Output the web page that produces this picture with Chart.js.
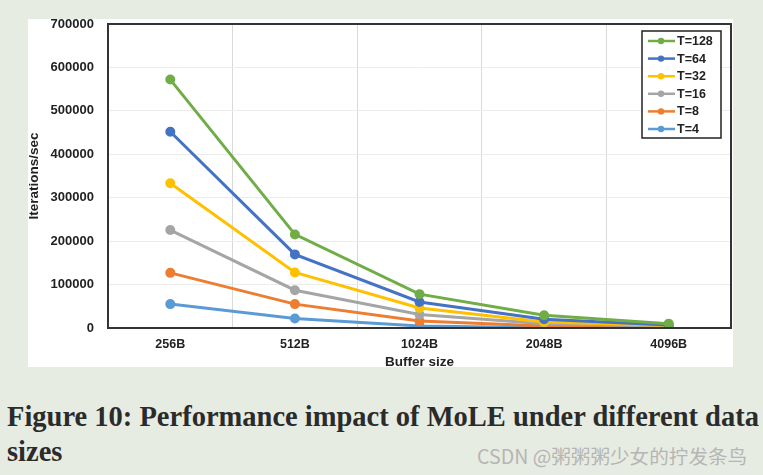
<!DOCTYPE html>
<html>
<head>
<meta charset="utf-8">
<script src="https://cdn.jsdelivr.net/npm/chart.js@4.4.0/dist/chart.umd.min.js"></script>
<style>
  body { margin: 0; background: #e7ece2; width: 763px; height: 475px; position: relative; overflow: hidden; }
  #panel { position: absolute; left: 28px; top: 19px; width: 705px; height: 348px; background: #fff; }
  #caption { position: absolute; left: 7px; top: 399px; font-family: "Liberation Serif", serif; font-weight: bold;
             font-size: 28.5px; line-height: 35px; color: #2b2b2b; white-space: nowrap; }
  #mark { position: absolute; left: 477px; top: 441px; font-family: "Noto Sans CJK SC", sans-serif; font-size: 19.6px;
          color: #b5b5b5; white-space: nowrap; }
</style>
</head>
<body>
<div id="panel"><canvas id="chart" width="705" height="348"></canvas></div>
<div id="caption">Figure 10: Performance impact of MoLE under different data<br>sizes</div>
<div id="mark">CSDN @粥粥粥少女的拧发条鸟</div>
<script>
const bufferSizes = ['256B', '512B', '1024B', '2048B', '4096B'];
const seriesLabels = ['T=128', 'T=64', 'T=32', 'T=16', 'T=8', 'T=4'];
const t128 = [572000, 215500, 78000, 29300, 10000];
const t64 = [452000, 169500, 60000, 20000, 7000];
const t32 = [333500, 127800, 46000, 14000, 5500];
const t16 = [225500, 87000, 31000, 10000, 4000];
const t8 = [127000, 55000, 16000, 4600, 2000];
const t4 = [55000, 22000, 4600, 800, 600];
const colors = ['#70ad47', '#4472c4', '#ffc000', '#a5a5a5', '#ed7d31', '#5b9bd5'];

const seriesValues = [t128, t64, t32, t16, t8, t4];
const tickFont = { family: 'Liberation Sans', weight: 'bold', size: 12.5 };
const yTickFont = { family: 'Liberation Sans', weight: 'bold', size: 13 };
const titleFont = { family: 'Liberation Sans', weight: 'bold', size: 13.5, lineHeight: 1 };

const boxAndLegend = {
    id: 'boxAndLegend',
    afterDraw(chart) {
        const ctx = chart.ctx;
        const a = chart.chartArea;
        ctx.save();
        ctx.strokeStyle = '#333';
        ctx.lineWidth = 2;
        ctx.strokeRect(a.left, a.top, a.right - a.left, a.bottom - a.top);

        // legend box
        const lx = a.right - 89, ly = a.top + 7, lw = 79, lh = 107;
        ctx.fillStyle = '#fff';
        ctx.fillRect(lx, ly, lw, lh);
        ctx.lineWidth = 1.5;
        ctx.strokeStyle = '#222';
        ctx.strokeRect(lx, ly, lw, lh);
        ctx.font = 'bold 12.5px "Liberation Sans"';
        ctx.textBaseline = 'middle';
        chart.data.datasets.forEach((ds, i) => {
            const y = ly + 10 + i * 17.6;
            ctx.strokeStyle = ds.borderColor;
            ctx.lineWidth = 2.5;
            ctx.beginPath();
            ctx.moveTo(lx + 6, y);
            ctx.lineTo(lx + 33, y);
            ctx.stroke();
            ctx.fillStyle = ds.borderColor;
            ctx.beginPath();
            ctx.arc(lx + 19, y, 3.2, 0, Math.PI * 2);
            ctx.fill();
            ctx.fillStyle = '#222';
            ctx.fillText(ds.label, lx + 35, y + 0.5);
        });
        ctx.restore();
    }
};

new Chart(document.getElementById('chart'), {
    type: 'line',
    data: {
        labels: bufferSizes,
        datasets: seriesLabels.map((label, i) => ({
            label: label,
            data: seriesValues[i],
            borderColor: colors[i],
            backgroundColor: colors[i],
            borderWidth: 3,
            pointRadius: 3.5,
            pointHoverRadius: 3.5,
            tension: 0
        }))
    },
    options: {
        responsive: false,
        animation: false,
        layout: { autoPadding: false, padding: { top: 5, right: 2, left: 0, bottom: 0 } },
        plugins: { legend: { display: false }, tooltip: { enabled: false } },
        scales: {
            x: {
                offset: true,
                grid: { offset: true, color: '#d9d9d9', drawTicks: false },
                border: { display: false },
                ticks: { color: '#222', font: tickFont, padding: 9 },
                title: { display: true, text: 'Buffer size', color: '#222', font: titleFont,
                         padding: { top: 0, bottom: -2 } },
                afterFit(scale) {
                    scale.height = 39;
                    scale.paddingLeft = 0;
                    scale.paddingRight = 0;
                }
            },
            y: {
                min: 0,
                max: 700000,
                grid: { color: '#ececec', drawTicks: false },
                border: { display: false },
                ticks: { stepSize: 100000, color: '#222', font: yTickFont, padding: 14,
                         callback: (v) => String(v) },
                title: { display: true, text: 'Iterations/sec', color: '#222', font: titleFont, padding: 0 },
                afterFit(scale) {
                    scale.width = 80;
                    scale.paddingTop = 0;
                    scale.paddingBottom = 0;
                }
            }
        }
    },
    plugins: [boxAndLegend]
});
</script>
</body>
</html>
